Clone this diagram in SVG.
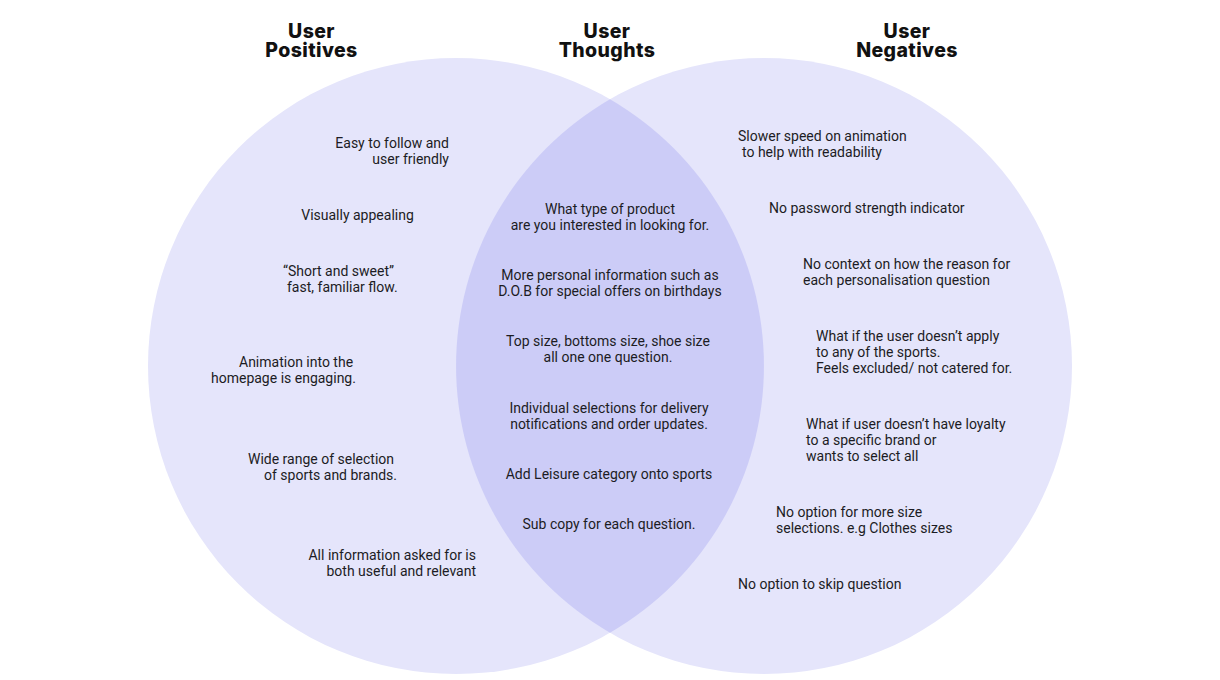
<svg xmlns="http://www.w3.org/2000/svg" width="1220" height="680" viewBox="0 0 1220 680">
<style>
.c{fill:#E5E5FB}
.lens{fill:#CCCCF7}
.h{font-family:Inter,"Liberation Sans",sans-serif;font-weight:800;font-size:19.5px;letter-spacing:0.4px;fill:#111;text-anchor:middle}
.t{font-family:Roboto,"Liberation Sans",sans-serif;font-size:14px;fill:#1c1c24}
.m{text-anchor:middle}
.e{text-anchor:end}
</style>
<rect width="1220" height="680" fill="#ffffff"/>
<g id="circle-positives"><circle class="c" cx="456" cy="366" r="308"/></g>
<g id="circle-negatives"><circle class="c" cx="764" cy="366" r="308"/></g>
<g id="overlap-thoughts"><path class="lens" d="M610 99.3 A308 308 0 0 1 610 632.7 A308 308 0 0 1 610 99.3 Z"/></g>
<g id="headings">
<text class="h" x="311.5" y="38"><tspan x="311.5" y="38">User</tspan><tspan x="311.5" y="57">Positives</tspan></text>
<text class="h" x="607" y="38"><tspan x="607" y="38">User</tspan><tspan x="607" y="57">Thoughts</tspan></text>
<text class="h" x="907" y="38"><tspan x="907" y="38">User</tspan><tspan x="907" y="57">Negatives</tspan></text>
</g>
<g id="positives">
<text class="t e" x="449" y="148">Easy to follow and</text>
<text class="t e" x="449" y="164">user friendly</text>
<text class="t m" x="357.5" y="220">Visually appealing</text>
<text class="t" x="283" y="276">“Short and sweet”</text>
<text class="t" x="287" y="292">fast, familiar flow.</text>
<text class="t" x="239" y="367">Animation into the</text>
<text class="t" x="211" y="383">homepage is engaging.</text>
<text class="t" x="248" y="464">Wide range of selection</text>
<text class="t" x="264" y="480">of sports and brands.</text>
<text class="t e" x="476" y="560">All information asked for is</text>
<text class="t e" x="476" y="576">both useful and relevant</text>
</g>
<g id="thoughts">
<text class="t m" x="610" y="214">What type of product</text>
<text class="t m" x="610" y="230">are you interested in looking for.</text>
<text class="t m" x="610" y="280">More personal information such as</text>
<text class="t m" x="610" y="296">D.O.B for special offers on birthdays</text>
<text class="t m" x="608" y="346">Top size, bottoms size, shoe size</text>
<text class="t m" x="608" y="362">all one one question.</text>
<text class="t m" x="609" y="413">Individual selections for delivery</text>
<text class="t m" x="609" y="429">notifications and order updates.</text>
<text class="t m" x="609" y="479">Add Leisure category onto sports</text>
<text class="t m" x="609" y="529">Sub copy for each question.</text>
</g>
<g id="negatives">
<text class="t" x="738" y="141">Slower speed on animation</text>
<text class="t" x="742" y="157">to help with readability</text>
<text class="t" x="769" y="213">No password strength indicator</text>
<text class="t" x="803" y="269">No context on how the reason for</text>
<text class="t" x="803" y="285">each personalisation question</text>
<text class="t" x="816" y="341">What if the user doesn’t apply</text>
<text class="t" x="816" y="357">to any of the sports.</text>
<text class="t" x="816" y="373">Feels excluded/ not catered for.</text>
<text class="t" x="806" y="429">What if user doesn’t have loyalty</text>
<text class="t" x="806" y="445">to a specific brand or</text>
<text class="t" x="806" y="461">wants to select all</text>
<text class="t" x="776" y="517">No option for more size</text>
<text class="t" x="776" y="533">selections. e.g Clothes sizes</text>
<text class="t" x="738" y="589">No option to skip question</text>
</g>
</svg>
